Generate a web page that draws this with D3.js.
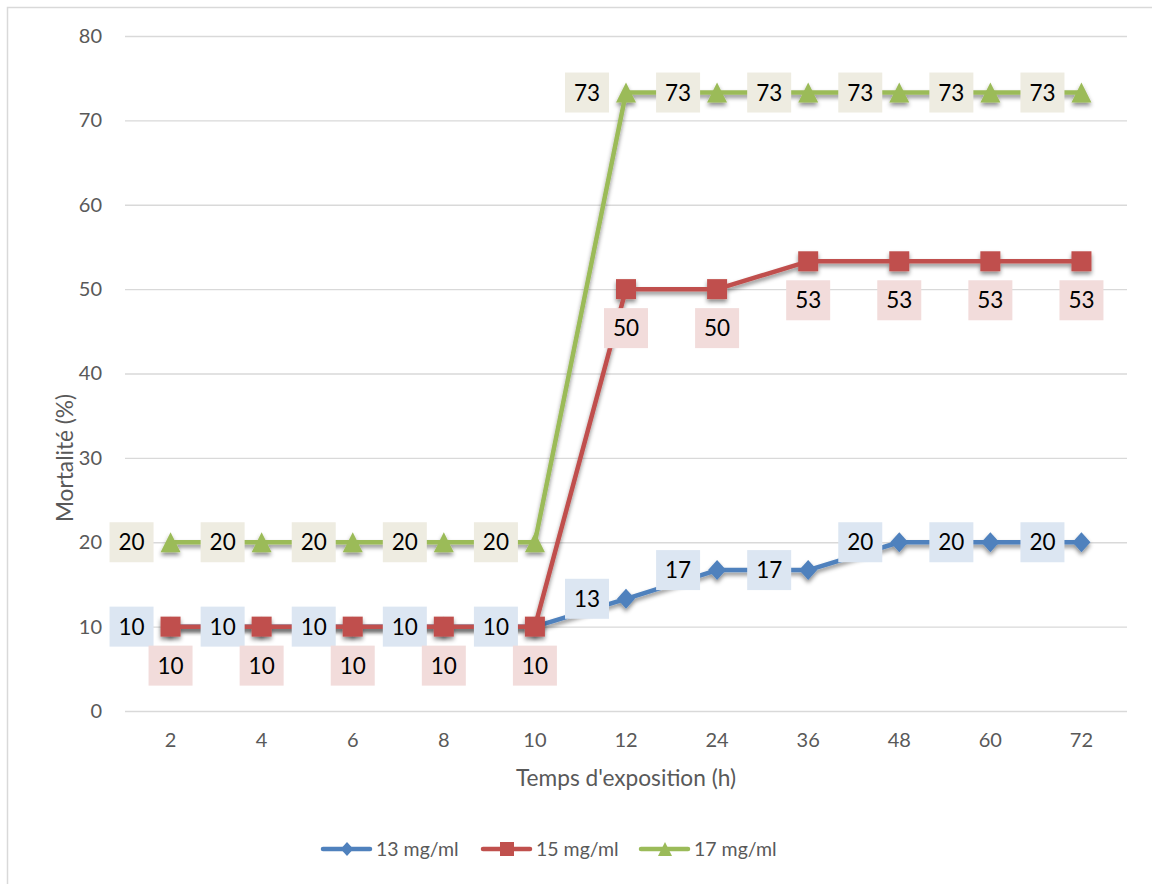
<!DOCTYPE html>
<html><head><meta charset="utf-8">
<script src="https://cdn.jsdelivr.net/npm/d3@7"></script>
<style>body{margin:0;background:#fff;}svg{display:block;font-family:Lato,"Open Sans",sans-serif;}</style>
</head><body>
<svg id="c" width="1152" height="884"></svg>
<script>
const categories = ["2","4","6","8","10","12","24","36","48","60","72"];
const s13 = [10,10,10,10,10,13.3,16.7,16.7,20,20,20];
const s15 = [10,10,10,10,10,50,50,53.3,53.3,53.3,53.3];
const s17 = [20,20,20,20,20,73.3,73.3,73.3,73.3,73.3,73.3];
const seriesNames = ["13 mg/ml","15 mg/ml","17 mg/ml"];
const yTicks = [0,10,20,30,40,50,60,70,80];

const series = [
  {name: seriesNames[0], values: s13, color:"#4f81bd", bg:"#dce6f2", marker:"diamond", lpos:"left"},
  {name: seriesNames[1], values: s15, color:"#c0504d", bg:"#f2dcdb", marker:"square", lpos:"below"},
  {name: seriesNames[2], values: s17, color:"#9bbb59", bg:"#eeece1", marker:"triangle", lpos:"left"}
];

const svg = d3.select("#c");
svg.append("rect").attr("x",7.5).attr("y",7.5).attr("width",1160).attr("height",900)
  .attr("fill","none").attr("stroke","#d9d9d9").attr("stroke-width",1.5);

const defs = svg.append("defs");
const f = defs.append("filter").attr("id","sh").attr("x","-10%").attr("y","-10%").attr("width","120%").attr("height","140%");
f.append("feDropShadow").attr("dx",0).attr("dy",3).attr("stdDeviation",2).attr("flood-color","#000").attr("flood-opacity",0.45);

const x = d3.scaleBand().domain(categories).range([125,1127]);
const y = d3.scaleLinear().domain([0,80]).range([711,36]);
const cx = d => x(d) + x.bandwidth()/2;

svg.append("g").selectAll("line").data(yTicks).join("line")
  .attr("x1",125).attr("x2",1127).attr("y1",d=>y(d)+0.5).attr("y2",d=>y(d)+0.5)
  .attr("stroke","#d9d9d9").attr("stroke-width",1.3);

const yAxis = d3.axisLeft(y).tickValues(yTicks).tickSize(0).tickPadding(0);
const gy = svg.append("g").attr("transform","translate(102,0)").call(yAxis);
gy.select(".domain").remove();
gy.selectAll("text").attr("font-size",20).attr("fill","#595959").attr("font-family","Lato, sans-serif");

const xAxis = d3.axisBottom(x).tickSize(0).tickPadding(0);
const gx = svg.append("g").attr("transform","translate(0,733)").call(xAxis);
gx.select(".domain").remove();
gx.selectAll("text").attr("font-size",20).attr("fill","#595959").attr("font-family","Lato, sans-serif");

svg.append("text").attr("x",626).attr("y",786).attr("text-anchor","middle")
  .attr("font-size",22.7).attr("fill","#595959").text("Temps d'exposition (h)");
svg.append("text").attr("transform","translate(73,458) rotate(-90)").attr("text-anchor","middle")
  .attr("font-size",22.7).attr("fill","#595959").text("Mortalité (%)");

function markerPath(type, s){
  if(type==="diamond") return `M0,${-10*s}L${9*s},0L0,${10*s}L${-9*s},0Z`;
  if(type==="square") return `M${-10*s},${-10*s}H${10*s}V${10*s}H${-10*s}Z`;
  return `M0,${-10*s}L${10*s},${10*s}L${-10*s},${10*s}Z`;
}

const line = d3.line().x((d,i)=>cx(categories[i])).y(d=>y(d));
const layer = svg.append("g");
series.forEach(s=>{
  const g = layer.append("g").attr("filter","url(#sh)");
  g.append("path").attr("d",line(s.values)).attr("fill","none")
    .attr("stroke",s.color).attr("stroke-width",4.5).attr("stroke-linejoin","round").attr("stroke-linecap","round");
  g.selectAll("path.m").data(s.values).join("path").attr("class","m")
    .attr("transform",(d,i)=>`translate(${cx(categories[i])},${y(d)})`)
    .attr("d",markerPath(s.marker,1)).attr("fill",s.color);
});

const lab = svg.append("g");
series.forEach(s=>{
  s.values.forEach((v,i)=>{
    let px = cx(categories[i]), py = y(v);
    if(s.lpos==="left"){ px -= 39; } else { py += 39; }
    const g = lab.append("g").attr("transform",`translate(${px},${py})`);
    g.append("rect").attr("x",-22).attr("y",-20).attr("width",44).attr("height",40).attr("fill",s.bg);
    g.append("text").attr("text-anchor","middle").attr("dy","0.36em")
      .attr("font-size",22.5).attr("fill","#000").text(Math.round(v));
  });
});

const legX = [323, 483, 641];
series.forEach((s,i)=>{
  const g = svg.append("g").attr("transform",`translate(${legX[i]},849)`);
  g.append("line").attr("x1",0).attr("x2",47).attr("y1",0).attr("y2",0)
    .attr("stroke",s.color).attr("stroke-width",4.5).attr("stroke-linecap","round");
  g.append("path").attr("transform","translate(24,0)").attr("d",markerPath(s.marker,0.7)).attr("fill",s.color);
  g.append("text").attr("x",53).attr("dy","0.36em").attr("font-size",19.5).attr("fill","#595959").text(s.name);
});
</script>
</body></html>
